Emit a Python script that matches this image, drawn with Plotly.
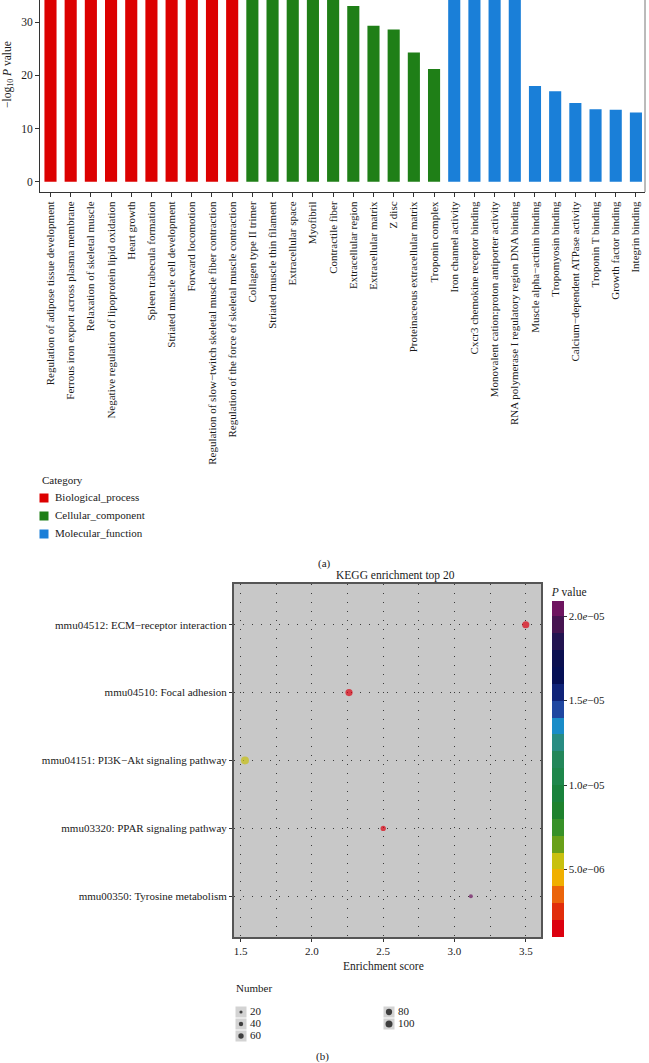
import plotly.graph_objects as go

# ---------------- data ----------------
bp_terms = ["Regulation of adipose tissue development",
            "Ferrous iron export across plasma membrane",
            "Relaxation of skeletal muscle",
            "Negative regulation of lipoprotein lipid oxidation",
            "Heart growth",
            "Spleen trabecula formation",
            "Striated muscle cell development",
            "Forward locomotion",
            "Regulation of slow\u2212twitch skeletal muscle fiber contraction",
            "Regulation of the force of skeletal muscle contraction"]
bp_vals = [40, 40, 40, 40, 40, 40, 40, 40, 40, 40]

cc_terms = ["Collagen type II trimer",
            "Striated muscle thin filament",
            "Extracellular space",
            "Myofibril",
            "Contractile fiber",
            "Extracellular region",
            "Extracellular matrix",
            "Z disc",
            "Proteinaceous extracellular matrix",
            "Troponin complex"]
cc_vals = [40, 40, 40, 40, 40, 33.0, 29.3, 28.6, 24.3, 21.2]

mf_terms = ["Iron channel activity",
            "Cxcr3 chemokine receptor binding",
            "Monovalent cation:proton antiporter activity",
            "RNA polymerase I regulatory region DNA binding",
            "Muscle alpha\u2212actinin binding",
            "Tropomyosin binding",
            "Calcium\u2212dependent ATPase activity",
            "Troponin T binding",
            "Growth factor binding",
            "Integrin binding"]
mf_vals = [40, 40, 40, 40, 18.0, 17.0, 14.8, 13.6, 13.5, 13.0]

cat_names = ["Biological_process", "Cellular_component", "Molecular_function"]
cat_colors = ["#DC0000", "#1F7F17", "#1A7FD8"]

kegg_terms = ["mmu04512: ECM\u2212receptor interaction",
              "mmu04510: Focal adhesion",
              "mmu04151: PI3K\u2212Akt signaling pathway",
              "mmu03320: PPAR signaling pathway",
              "mmu00350: Tyrosine metabolism"]
kegg_score = [3.50, 2.26, 1.53, 2.50, 3.115]
kegg_pval = [1.3e-06, 1.5e-06, 5.3e-06, 1.4e-06, 2.02e-05]
kegg_number = [105, 105, 130, 57, 33]

size_legend_vals = [20, 40, 60, 80, 100]

cbar_tickvals = [5.0e-06, 1.0e-05, 1.5e-05, 2.0e-05]
cbar_ticktext = ["5.0<i>e</i>\u221206", "1.0<i>e</i>\u221205",
                 "1.5<i>e</i>\u221205", "2.0<i>e</i>\u221205"]
band_colors = ["rgb(220,0,15)", "rgb(225,45,10)", "rgb(235,100,10)", "rgb(240,175,0)",
               "rgb(200,192,15)", "rgb(105,160,25)", "rgb(55,145,40)", "rgb(30,130,45)",
               "rgb(25,130,60)", "rgb(30,135,75)", "rgb(35,135,90)", "rgb(40,140,130)",
               "rgb(25,140,200)", "rgb(30,70,160)", "rgb(15,35,120)", "rgb(5,15,85)",
               "rgb(10,15,80)", "rgb(35,20,80)", "rgb(70,20,80)", "rgb(110,20,95)"]
P_MIN, P_MAX, P_STEP = 1.0e-06, 2.09e-05, 1.0e-06

# ---------------- helpers ----------------
W, H = 649, 1063
def px_x(p):
    return p / W
def px_y(p):
    return 1 - p / H

FONT = "Liberation Serif"
INK = "#1a1a1a"
TS = 11  # tick label size

# stepped colorscale
cs = []
for i, c in enumerate(band_colors):
    lo = (i * P_STEP) / (P_MAX - P_MIN)
    hi = min(((i + 1) * P_STEP) / (P_MAX - P_MIN), 1.0)
    cs.append([max(lo, 0.0), c])
    cs.append([hi, c])
cs[-1][0] = 1.0

all_terms = bp_terms + cc_terms + mf_terms

fig = go.Figure()

for terms, vals, name, col in zip([bp_terms, cc_terms, mf_terms],
                                  [bp_vals, cc_vals, mf_vals],
                                  cat_names, cat_colors):
    fig.add_trace(go.Bar(x=terms, y=vals, name=name, marker=dict(color=col, line=dict(width=0)),
                         width=0.6, xaxis="x", yaxis="y", showlegend=False))

SIZEREF = 2 * 100 / 49.0

fig.add_trace(go.Scatter(
    x=kegg_score, y=kegg_terms, mode="markers", xaxis="x2", yaxis="y2", showlegend=False,
    marker=dict(size=kegg_number, sizemode="area", sizeref=SIZEREF, sizemin=1,
                color=kegg_pval, colorscale=cs, cmin=P_MIN, cmax=P_MAX, showscale=True,
                line=dict(width=0),
                colorbar=dict(
                    x=px_x(551.7), xanchor="left", xpad=0,
                    y=px_y(937), yanchor="bottom", ypad=0,
                    len=353 / H, lenmode="fraction", thickness=12,
                    outlinewidth=0,
                    tickvals=cbar_tickvals, ticktext=cbar_ticktext,
                    ticks="outside", ticklen=3, tickcolor="#333",
                    tickfont=dict(family=FONT, size=TS, color=INK),
                    title=dict(text="<i>P</i> value", side="top",
                               font=dict(family=FONT, size=11.5, color=INK)),
                ))))

# category legend (small panel x4/y4, pixel-like coordinates)
cat_leg_y = [498, 516, 534]
fig.add_trace(go.Scatter(x=[44, 44, 44], y=cat_leg_y, mode="markers", xaxis="x4", yaxis="y4",
                         showlegend=False, hoverinfo="skip",
                         marker=dict(symbol="square", size=9, color=cat_colors, line=dict(width=0))))
fig.add_trace(go.Scatter(x=[55, 55, 55], y=cat_leg_y, mode="text", xaxis="x4", yaxis="y4",
                         showlegend=False, text=cat_names, textposition="middle right",
                         textfont=dict(family=FONT, size=TS, color=INK)))

# size legend (small panel x3/y3, pixel-like coordinates)
leg_x = [241, 241, 241, 389, 389]
leg_y = [1012, 1024, 1036, 1012, 1024]
fig.add_trace(go.Scatter(x=leg_x, y=leg_y, mode="markers", xaxis="x3", yaxis="y3", showlegend=False,
                         marker=dict(symbol="square", size=11, color="#d3d3d3", line=dict(width=0)),
                         hoverinfo="skip"))
fig.add_trace(go.Scatter(x=leg_x, y=leg_y, mode="markers", xaxis="x3", yaxis="y3", showlegend=False,
                         marker=dict(size=size_legend_vals, sizemode="area", sizeref=SIZEREF,
                                     color="black", line=dict(width=0))))
fig.add_trace(go.Scatter(x=[v + 9 for v in leg_x], y=leg_y, mode="text", xaxis="x3", yaxis="y3",
                         showlegend=False, text=[str(v) for v in size_legend_vals],
                         textposition="middle right",
                         textfont=dict(family=FONT, size=TS, color=INK)))

GRID_DASH = "1.3px,7.7px"
GRID_COL = "#3a3a3a"

def ann(text, x, y, size=TS, **kw):
    d = dict(text=text, x=px_x(x), y=px_y(y), xref="paper", yref="paper", showarrow=False,
             xanchor="center", yanchor="middle", font=dict(family=FONT, size=size, color=INK))
    d.update(kw)
    return d

fig.update_layout(
    width=W, height=H,
    margin=dict(l=0, r=0, t=0, b=0),
    paper_bgcolor="white", plot_bgcolor="rgba(0,0,0,0)",
    font=dict(family=FONT, size=TS, color=INK),
    barmode="overlay",
    showlegend=False,
    xaxis=dict(domain=[px_x(40), px_x(645)], anchor="y", type="category",
               categoryorder="array", categoryarray=all_terms,
               range=[-0.52, 29.45], tickangle=-90, ticks="outside", ticklen=4,
               tickcolor="#333", showline=True, linecolor="#333", linewidth=1,
               showgrid=False, automargin=False,
               tickfont=dict(family=FONT, size=TS, color=INK)),
    yaxis=dict(domain=[px_y(192), 1], anchor="x", range=[-1.94, 34.15],
               tickvals=[0, 10, 20, 30], ticks="outside", ticklen=4, tickcolor="#333",
               showline=True, linecolor="#333", linewidth=1, showgrid=False, zeroline=False,
               automargin=False, tickfont=dict(family=FONT, size=TS + 0.5, color=INK)),
    xaxis2=dict(domain=[px_x(234), px_x(541)], anchor="y2", range=[1.453, 3.607],
                tickvals=[1.5, 2.0, 2.5, 3.0, 3.5], ticktext=["1.5", "2.0", "2.5", "3.0", "3.5"],
                ticks="outside", ticklen=3, tickcolor="#333",
                showline=True, mirror=True, linecolor="#555", linewidth=2,
                showgrid=True, gridcolor=GRID_COL, griddash=GRID_DASH, gridwidth=1.2,
                zeroline=False, automargin=False,
                minor=dict(tickvals=[1.75, 2.25, 2.75, 3.25], showgrid=True, gridcolor=GRID_COL,
                           griddash=GRID_DASH, gridwidth=1.2, ticks=""),
                tickfont=dict(family=FONT, size=TS, color=INK)),
    yaxis2=dict(domain=[px_y(937), px_y(584)], anchor="x2", type="category",
                categoryorder="array", categoryarray=kegg_terms[::-1],
                range=[-0.6, 4.6], ticks="outside", ticklen=3, tickcolor="#333",
                showline=True, mirror=True, linecolor="#555", linewidth=2,
                showgrid=True, gridcolor=GRID_COL, griddash=GRID_DASH, gridwidth=1.2,
                zeroline=False, automargin=False,
                tickfont=dict(family=FONT, size=TS, color=INK)),
    xaxis3=dict(domain=[px_x(230), px_x(430)], anchor="y3", range=[230, 430], visible=False),
    yaxis3=dict(domain=[px_y(1048), px_y(1000)], anchor="x3", range=[1048, 1000], visible=False),
    xaxis4=dict(domain=[px_x(30), px_x(230)], anchor="y4", range=[30, 230], visible=False),
    yaxis4=dict(domain=[px_y(545), px_y(488)], anchor="x4", range=[545, 488], visible=False),
    shapes=[
        dict(type="rect", xref="x2 domain", yref="y2 domain", x0=0, x1=1, y0=0, y1=1,
             fillcolor="#c8c8c8", line=dict(width=0), layer="below"),
        dict(type="line", xref="paper", yref="paper", x0=px_x(645), x1=px_x(645),
             y0=px_y(192), y1=1, line=dict(color="#777", width=1)),
    ],
    annotations=[
        ann("\u2212log<sub>10</sub> <i>P</i> value", 8, 75, size=11.5, textangle=-90),
        ann("Category", 40, 480, xanchor="left"),
        ann("(a)", 324, 563),
        ann("KEGG enrichment top 20", 395, 575, size=11.5),
        ann("Enrichment score", 383, 966, size=11.5),
        ann("Number", 234, 988, xanchor="left"),
        ann("(b)", 322, 1056),
    ],
)

fig.write_html("out.html", config={"displayModeBar": False},
               post_script="document.body.style.margin='0';document.body.style.overflow='hidden';")
